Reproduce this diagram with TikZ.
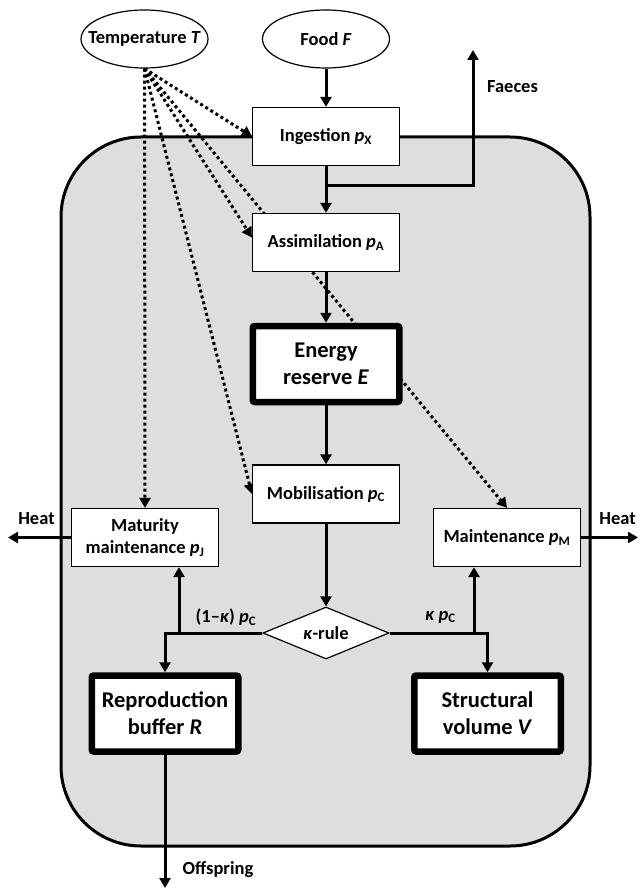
\documentclass[tikz,border=0pt]{standalone}
\usepackage{fontspec}
\setmainfont{Carlito}
\usetikzlibrary{arrows.meta, shapes.geometric, backgrounds}
\colorlet{body color}{black!13}
\tikzset{box/.style={draw, line width=1.2pt, fill=white, minimum width=147pt, minimum height=58pt, inner sep=2pt, align=center, font=\bfseries\fontsize{18.5}{22}\selectfont}}
\tikzset{pool/.style={box, line width=6.5pt, minimum width=146.5pt, minimum height=76pt, rounded corners=2pt, font=\bfseries\fontsize{22.5}{27}\selectfont}}
\tikzset{driver/.style={box, ellipse, minimum width=127pt, minimum height=58pt, inner sep=0pt}}
\tikzset{switch/.style={box, diamond, aspect=2.4, minimum width=126pt, minimum height=52pt, inner sep=0pt}}
\tikzset{cell/.style={line width=3pt, fill=body color, rounded corners=80pt}}
\tikzset{flow/.style={line width=3pt, -{Triangle[length=10pt, width=11pt]}}}
\tikzset{effect/.style={line width=3pt, dash pattern=on 3pt off 3pt, -{Triangle[length=10pt, width=11pt]}}}
\tikzset{tag/.style={font=\bfseries\fontsize{18.5}{22}\selectfont, inner sep=0pt}}
\newcommand{\flux}[1]{\textit{p}\textsubscript{#1}}

\begin{document}
\begin{tikzpicture}[x=1pt, y=-1pt]
                \useasboundingbox (0,0) rectangle (640,890);
                \node[driver] (temp) at (144.5,39) {\makebox[0pt]{Temperature \textit{T}}};
                \node[driver] (food) at (326,39) {\makebox[0pt]{Food \textit{F}}};
                \node[box] (ingest) at (326,136.5) {Ingestion \flux{X}};
                \node[box] (assim) at (326,242.5) {Assimilation \flux{A}};
                \node[pool] (reserve) at (326,364) {Energy\\reserve \textit{E}};
                \node[box] (mobil) at (326,494) {Mobilisation \flux{C}};
                \node[box] (maturity) at (145,537.5) {Maturity\\maintenance \flux{J}};
                \node[box] (maint) at (507,537.5) {Maintenance \flux{M}};
                \node[switch] (kappa) at (326,633) {\textit{κ}-rule};
                \node[pool] (repro) at (165,713.5) {Reproduction\\buffer \textit{R}};
                \node[pool] (struct) at (487.5,713.5) {Structural\\volume \textit{V}};
                \node[tag] (faeces) at (512.5,87) {Faeces};
                \node[tag] (heatL) at (36.5,519) {Heat};
                \node[tag] (heatR) at (617.5,519) {Heat};
                \node[tag] (shareR) at (226,617) {(1–\textit{κ}) \flux{C}};
                \node[tag] (shareS) at (440.5,617) {\textit{κ} \flux{C}};
                \node[tag] (offspring) at (218,870) {Offspring};
                \coordinate (split) at (326,186);
                \coordinate (faecesend) at (473,50);
                \coordinate (upL) at (179,633);
                \coordinate (upR) at (474,633);
                \coordinate (lossL) at (8,537.5);
                \coordinate (lossR) at (638,537.5);
                \coordinate (release) at (165,888);
                \begin{scope}[on background layer]
                \draw[cell] (61,137) rectangle (590,846);
                \draw[effect] (temp.south) -- (ingest.west);
                \draw[effect] (temp.south) -- ([yshift=5pt]assim.west);
                \draw[effect] (temp.south) -- (maint.north);
                \draw[effect] (temp.south) -- (mobil.west);
                \draw[effect] (temp.south) -- (maturity.north);
                \draw[flow] (food) -- (ingest);
                \draw[flow] (ingest) -- (assim);
                \draw[flow] (split) -| (faecesend);
                \draw[flow] (assim) -- (reserve);
                \draw[flow] (reserve) -- (mobil);
                \draw[flow] (mobil) -- (kappa);
                \draw[flow] (kappa.west) -| (repro.north);
                \draw[flow] (kappa.east) -| (struct.north);
                \draw[flow] (upL) -- (upL |- maturity.south);
                \draw[flow] (upR) -- (upR |- maint.south);
                \draw[flow] (maturity.west) -- (lossL);
                \draw[flow] (maint.east) -- (lossR);
                \draw[flow] (repro) -- (release);
                \end{scope}
            \end{tikzpicture}
\end{document}
